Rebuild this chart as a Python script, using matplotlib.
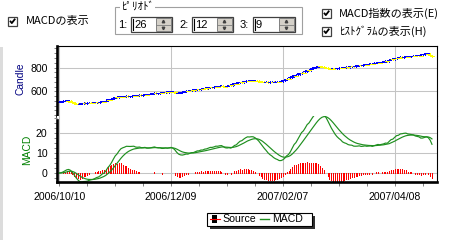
import numpy as np
import pandas as pd
import matplotlib
matplotlib.use("Agg")
import matplotlib.pyplot as plt
import matplotlib.dates as mdates
from matplotlib.patches import Rectangle
from matplotlib.ticker import FixedLocator, MultipleLocator

W, H = 449, 240
JP = ["Noto Sans CJK JP", "DejaVu Sans"]
LAT = ["Liberation Sans", "DejaVu Sans"]

# ----------------------------------------------------------------------
# datos (cierres diarios, 2006/10/10 ...)
# ----------------------------------------------------------------------
closes = [
    514, 516, 519, 522, 524, 521, 514, 506, 499, 495,
    494, 494, 500, 503, 501, 502, 505, 504, 503, 506,
    508, 506, 511, 515, 513, 522, 531, 529, 538, 546,
    550, 548, 557, 559, 556, 557, 561, 558, 560, 563,
    565, 561, 566, 570, 567, 572, 575, 571, 577, 580,
    583, 586, 582, 584, 588, 586, 591, 595, 593, 599,
    601, 596, 591, 586, 588, 593, 597, 602, 605, 603,
    609, 612, 610, 616, 619, 617, 623, 621, 628, 627,
    632, 635, 633, 638, 642, 640, 645, 646, 641, 640,
    646, 651, 649, 659, 666, 664, 675, 678, 676, 685,
    688, 690, 687, 692, 693, 690, 688, 686, 682, 681,
    679, 680, 677, 679, 681, 678, 680, 682, 680, 686,
    692, 699, 707, 705, 717, 728, 734, 731, 744, 752,
    758, 756, 769, 778, 776, 789, 797, 802, 807, 810,
    809, 807, 803, 798, 795, 792, 791, 793, 792, 795,
    798, 800, 797, 803, 806, 804, 809, 812, 809, 815,
    818, 821, 818, 824, 827, 825, 830, 832, 830, 839,
    841, 844, 841, 847, 850, 855, 852, 866, 871, 868,
    879, 883, 880, 889, 887, 891, 893, 890, 895, 897,
    899, 897, 902, 904, 901, 910, 916, 919, 914, 905,
    893,
]
start_date = "2006-10-10"
periods = [26, 12, 9]           # 1: lenta, 2: rapida, 3: senal
candle_ticks = [600, 800]
macd_ticks = [0, 10, 20]
x_tick_dates = ["2006-10-10", "2006-12-09", "2007-02-07", "2007-04-08"]
x_tick_labels = ["2006/10/10", "2006/12/09", "2007/02/07", "2007/04/08"]
legend_labels = ["Source", "MACD"]

# ----------------------------------------------------------------------
# MACD
# ----------------------------------------------------------------------
s = pd.Series(closes, dtype=float)
slow = s.ewm(span=periods[0], adjust=False).mean()
fast = s.ewm(span=periods[1], adjust=False).mean()
macd = fast - slow
signal = macd.ewm(span=periods[2], adjust=False).mean()
hist = macd - signal

dates = pd.date_range(start_date, periods=len(closes), freq="D")
xn = mdates.date2num(dates)
x0 = mdates.date2num(pd.Timestamp(start_date))

# ----------------------------------------------------------------------
# figura
# ----------------------------------------------------------------------
fig = plt.figure(figsize=(W / 100, H / 100), dpi=100)
fig.patch.set_facecolor("white")

L, R = 57, 437
T1, B1, B2 = 46, 116, 182
ax1 = fig.add_axes([L / W, 1 - B1 / H, (R - L) / W, (B1 - T1) / H])
ax2 = fig.add_axes([L / W, 1 - B2 / H, (R - L) / W, (B2 - B1) / H], sharex=ax1)

grid_c = "#c4c4c4"
for ax in (ax1, ax2):
    ax.set_xlim(x0 - 1.25, x0 + 202.7)
    ax.set_facecolor("white")
    ax.grid(True, color=grid_c, lw=0.75)
    ax.set_axisbelow(True)
    ax.spines["left"].set_linewidth(1.9)
    ax.spines["right"].set_linewidth(0.8)
    ax.spines["top"].set_linewidth(0.8)
    ax.tick_params(axis="y", which="both", direction="out", length=2.4,
                   width=0.7, color="#808080", pad=4.5, labelsize=7.6)

# --- velas ---
opens = [closes[0]] + closes[:-1]
cols = ["#0000ff" if c >= o else "#ffff00" for o, c in zip(opens, closes)]
lo = [min(o, c) - 4 for o, c in zip(opens, closes)]
hi = [max(o, c) + 4 for o, c in zip(opens, closes)]
ax1.vlines(xn, lo, hi, colors=cols, lw=0.6, antialiased=False)
ax1.hlines(closes, xn - 1.2, xn + 1.2, colors=cols, lw=0.6, antialiased=False)
ax1.set_ylim(392, 981)
ax1.set_yticks(candle_ticks)
ax1.yaxis.set_minor_locator(MultipleLocator(40))
ax1.spines["bottom"].set_visible(False)
ax1.tick_params(axis="x", which="both", bottom=False, labelbottom=False)

# --- MACD ---
ax2.vlines(xn, 0, hist, colors="#ff0000", lw=0.6, antialiased=False)
ax2.plot(xn, macd, color="#1f8f1f", lw=0.85)
ax2.plot(xn, signal, color="#1f8f1f", lw=0.85)
ax2.set_ylim(-4.5, 28.5)
ax2.set_yticks(macd_ticks)
ax2.yaxis.set_minor_locator(MultipleLocator(2.5))
ax2.spines["top"].set_visible(False)
ax2.spines["bottom"].set_linewidth(1.9)
ax2.spines["left"].set_bounds(-4.5, 26.5)
major = [mdates.date2num(pd.Timestamp(d)) for d in x_tick_dates]
ax2.set_xticks(major, labels=x_tick_labels)
ax2.xaxis.set_minor_locator(FixedLocator(x0 + np.arange(0, 205, 15)))
ax2.tick_params(axis="x", which="both", direction="out", length=2.6,
                width=0.7, color="#808080", pad=4.5, labelsize=7.6)
for ax in (ax1, ax2):
    for t in ax.get_xticklabels() + ax.get_yticklabels():
        t.set_family(LAT)

fig.text(21 / W, 1 - 79 / H, "Candle", rotation=90, ha="center", va="center",
         color="#000080", fontsize=7.4, family=LAT)
fig.text(27 / W, 1 - 150 / H, "MACD", rotation=90, ha="center", va="center",
         color="#008000", fontsize=7.4, family=LAT)

# ----------------------------------------------------------------------
# controles de la ventana (coordenadas en pixeles)
# ----------------------------------------------------------------------
ov = fig.add_axes([0, 0, 1, 1])
ov.set_xlim(0, W)
ov.set_ylim(H, 0)
ov.axis("off")
ov.patch.set_visible(False)

ov.add_patch(Rectangle((0, 47), 3, H - 47, fc="#dcdcdc", ec="none"))


def checkbox(x, y, label, tx, ty):
    ov.add_patch(Rectangle((x, y), 9, 9, fc="white", ec="#404040", lw=0.9))
    ov.plot([x + 2, x + 3.8, x + 7.2], [y + 4.3, y + 6.6, y + 2.2],
            color="black", lw=1.3, solid_capstyle="butt")
    ov.text(tx, ty, label, fontsize=8, va="center", ha="left", family=JP)


def spinbox(xa, xb, sx, val):
    ov.add_patch(Rectangle((xa, 16.5), xb - xa, 15.5, fc="white", ec="#404040", lw=0.9))
    ov.add_patch(Rectangle((sx, 18), 15, 13, fc="#d4d0c8", ec="#808080", lw=0.7))
    ov.plot([sx, sx + 15], [24.5, 24.5], color="#808080", lw=0.6)
    ov.plot([sx + 7.5], [21.2], marker="^", ms=1.8, color="#404040")
    ov.plot([sx + 7.5], [27.8], marker="v", ms=1.8, color="#404040")
    ov.plot([xa + 2.3, xa + 2.3], [18.5, 30], color="black", lw=0.8)
    ov.text(xa + 3, 24.8, val, fontsize=8, va="center", ha="left", family=LAT)


checkbox(8, 16.5, "MACDの表示", 26, 21)
checkbox(322, 8.5, "MACD指数の表示(E)", 339, 13)
checkbox(322, 26.5, "ﾋｽﾄｸﾞﾗﾑの表示(H)", 339, 31)

ov.add_patch(Rectangle((115, 7), 187, 27, fc="none", ec="#a0a0a0", lw=0.8))
ov.text(121, 6.5, "ﾋﾟﾘｵﾄﾞ", fontsize=8, va="center", ha="left", family=JP,
        bbox=dict(fc="white", ec="none", pad=0.4))
for lab, lx, xa, xb, val in [("1:", 118, 131, 172, str(periods[0])),
                             ("2:", 179, 192, 233, str(periods[1])),
                             ("3:", 240, 253, 295, str(periods[2]))]:
    ov.text(lx, 24.5, lab, fontsize=8, va="center", ha="left", family=LAT)
    spinbox(xa, xb, xb - 16.5, val)

# --- leyenda ---
ov.add_patch(Rectangle((210, 215.5), 105, 13.5, fc="#303030", ec="none"))
ov.add_patch(Rectangle((207, 212.5), 105, 13.5, fc="white", ec="black", lw=0.8))
ov.plot([209.5, 219.5], [219, 219], color="#ff0000", lw=0.8)
ov.add_patch(Rectangle((212, 215), 4.5, 8, fc="black", ec="none"))
ov.text(222, 219.3, legend_labels[0], fontsize=7.6, va="center", ha="left", family=LAT)
ov.plot([259.5, 268.5], [219, 219], color="#1f8f1f", lw=1.0)
ov.text(272, 219.3, legend_labels[1], fontsize=7.6, va="center", ha="left", family=LAT)

fig.savefig("out.png", dpi=100)
